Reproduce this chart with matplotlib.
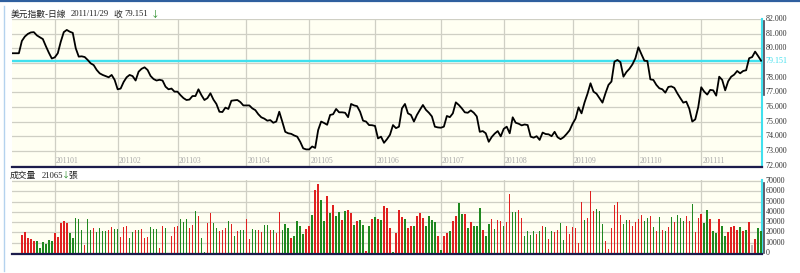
import numpy as np
import pandas as pd
import matplotlib
matplotlib.use("Agg")
import matplotlib.pyplot as plt
from matplotlib.lines import Line2D

# trading days shown (index positions on the x axis)
dates = pd.bdate_range("2010-12-14", "2011-11-29")

price = [
    79.66, 79.66, 79.66, 80.5, 80.8, 80.98, 81.08, 81.1, 80.88, 80.75,
    80.63, 80.15, 79.7, 79.3, 79.38, 79.66, 80.45, 81.1, 81.25, 81.13,
    81.05, 80.0, 79.43, 79.45, 79.4, 79.2, 78.97, 78.85, 78.52, 78.29,
    78.18, 78.1, 78.02, 78.18, 77.84, 77.2, 77.25, 77.7, 78.02, 78.18,
    78.1, 77.8, 78.4, 78.6, 78.7, 78.52, 78.11, 77.9, 77.8, 77.85,
    77.8, 77.38, 77.2, 77.25, 77.04, 77.04, 76.8, 76.6, 76.47, 76.5,
    76.74, 76.74, 77.2, 76.8, 76.47, 76.6, 76.93, 76.5, 76.2, 75.67,
    75.65, 75.95, 75.86, 76.42, 76.45, 76.47, 76.33, 76.1, 76.1, 76.1,
    75.9, 75.78, 75.5, 75.29, 75.2, 75.06, 75.1, 74.92, 75.0, 75.67,
    75.0, 74.3, 74.2, 74.16, 74.05, 73.97, 73.62, 73.17, 73.1, 73.1,
    73.3, 73.2, 74.42, 75.0, 74.9, 74.78, 75.45, 75.5, 75.86, 75.63,
    75.63, 75.6, 75.3, 76.2, 76.1, 76.05, 75.67, 75.06, 75.0, 74.76,
    74.75, 74.7, 73.85, 73.97, 73.55, 73.8, 74.1, 74.76, 74.55, 74.65,
    75.9, 76.2, 75.56, 75.45, 75.0, 75.45, 75.8, 76.13, 75.8, 75.6,
    75.35, 74.65, 74.6, 74.58, 74.65, 75.38, 75.3, 75.56, 76.31, 76.13,
    75.9, 75.63, 75.6, 75.76, 75.6, 75.35, 74.3, 74.35, 74.2, 73.62,
    73.95, 74.18, 74.35, 73.99, 74.5, 74.65, 74.2, 75.29, 74.92, 74.85,
    74.74, 74.8, 74.76, 73.97, 73.9, 74.0, 73.75, 74.25, 74.15, 74.13,
    74.0, 74.3, 73.93, 73.8, 73.93, 74.15, 74.4, 74.85, 75.2, 75.97,
    75.56, 76.3, 76.9, 77.61, 77.04, 76.9, 76.6, 76.29, 76.93, 77.5,
    77.73, 79.09, 79.2, 79.05, 78.06, 78.38, 78.6, 78.9, 79.32, 80.07,
    79.6, 79.15, 79.13, 77.88, 77.84, 77.5, 77.27, 77.2, 76.97, 77.36,
    77.4, 77.3, 76.93, 76.6, 76.29, 76.36, 75.88, 75.0, 75.15, 75.99,
    77.34, 77.04, 76.84, 77.16, 77.13, 76.77, 78.06, 77.84, 77.13, 77.75,
    78.06, 78.2, 78.45, 78.29, 78.45, 78.5, 79.32, 79.4, 79.77, 79.47,
    79.151,
]

volume = [
    0, 0, 0, 17500, 20000, 15000, 14000, 12000, 12000, 5000,
    11000, 9000, 12500, 12000, 19000, 15500, 29000, 31000, 29000, 19000,
    15000, 34000, 33000, 22500, 7500, 33000, 22000, 24000, 20000, 24500,
    21000, 21000, 22000, 25000, 23500, 23500, 16000, 25000, 26000, 14500,
    20000, 22000, 22000, 23000, 15000, 16000, 25000, 23000, 23000, 5000,
    26000, 24000, 0, 17000, 25000, 26000, 33000, 30500, 33000, 24500,
    27000, 40500, 36000, 15000, 1000, 29500, 39000, 29000, 24500, 21000,
    22000, 24500, 31500, 28000, 17000, 21000, 22000, 22500, 33000, 13500,
    23000, 22000, 22000, 20000, 27000, 27000, 22000, 22000, 19000, 39500,
    22500, 28000, 24000, 15000, 16500, 31500, 26500, 18000, 23000, 26000,
    36500, 61500, 67000, 52000, 31500, 55000, 39000, 46500, 36000, 40000,
    32000, 41000, 41500, 39000, 27500, 31500, 32000, 27000, 2000, 26000,
    33000, 35000, 33000, 32500, 45500, 43500, 24000, 1000, 19000, 41500,
    35000, 33500, 24500, 26500, 26500, 36000, 39000, 34500, 26500, 36000,
    32500, 30000, 17000, 3000, 17000, 19500, 21500, 31500, 36000, 49000,
    37500, 38000, 24500, 30500, 26000, 26500, 44000, 22000, 17000, 28000,
    33000, 23500, 32000, 31500, 26000, 30500, 57000, 40000, 39500, 41500,
    34500, 17000, 21500, 17500, 21000, 18000, 21000, 26500, 25500, 13500,
    21000, 20000, 22000, 29500, 12500, 26000, 18500, 25000, 24000, 9500,
    50000, 32500, 34000, 60000, 41000, 43000, 41000, 28000, 11500, 4000,
    24500, 46500, 49500, 37000, 28500, 32500, 32500, 26500, 30000, 33000,
    37000, 31500, 34000, 36000, 25500, 21000, 35000, 22500, 21000, 25000,
    35000, 30000, 37000, 34000, 31500, 36000, 31500, 47500, 20000, 34500,
    38000, 29500, 42000, 33000, 21000, 19000, 33500, 26000, 17000, 20000,
    25500, 26000, 22000, 25500, 21500, 22000, 30500, 8000, 14000, 24000,
    21065,
]

# 1 = up day (red), 0 = down day (green), 2 = flat (grey)
vol_up = [
    0, 0, 0, 1, 1, 1, 1, 1, 0, 0,
    0, 0, 0, 0, 1, 1, 1, 1, 1, 0,
    0, 0, 0, 0, 1, 0, 0, 1, 0, 0,
    0, 0, 1, 1, 0, 0, 1, 1, 1, 0,
    0, 1, 0, 1, 1, 1, 0, 0, 0, 1,
    1, 0, 1, 1, 1, 1, 0, 0, 0, 1,
    1, 0, 1, 0, 0, 1, 1, 0, 0, 1,
    1, 1, 0, 1, 0, 1, 0, 0, 1, 1,
    0, 0, 1, 1, 0, 0, 1, 0, 1, 1,
    0, 0, 0, 1, 0, 0, 0, 0, 1, 1,
    0, 1, 1, 0, 0, 1, 0, 1, 0, 0,
    1, 0, 1, 1, 0, 1, 0, 0, 1, 0,
    1, 0, 1, 0, 1, 1, 1, 0, 1, 1,
    1, 0, 1, 1, 0, 1, 1, 1, 0, 0,
    0, 0, 1, 0, 1, 1, 0, 1, 1, 0,
    0, 1, 0, 1, 0, 0, 0, 1, 0, 0,
    1, 0, 1, 1, 0, 1, 1, 0, 0, 1,
    1, 0, 0, 0, 0, 1, 0, 1, 0, 1,
    0, 1, 1, 0, 0, 1, 1, 1, 1, 1,
    1, 0, 1, 1, 1, 0, 0, 0, 1, 1,
    1, 1, 1, 1, 0, 0, 1, 1, 1, 1,
    1, 0, 0, 1, 0, 1, 0, 1, 0, 1,
    0, 1, 0, 0, 0, 1, 1, 0, 1, 1,
    1, 0, 0, 1, 0, 0, 1, 0, 0, 1,
    1, 1, 1, 0, 1, 0, 1, 2, 1, 0,
    0,
]

price_ticks = [82, 81, 80, 78, 77, 76, 75, 74, 73, 72]
vol_ticks = [0, 10000, 20000, 30000, 40000, 50000, 60000, 70000]
last_close = 79.151
last_vol = 21065

W, H = 800, 273
CREAM = "#fffff2"
GRID = "#cfcfc4"
NAVY = "#1c1c4c"
CYAN = "#40e0ee"
RED = "#e02020"
GREEN = "#1f881f"
CJK = ["Noto Sans CJK TC", "DejaVu Sans"]
SERIF = "Liberation Serif"

x = np.arange(len(dates))
month_idx = [i for i in range(1, len(dates)) if dates[i].month != dates[i - 1].month]
month_lab = [dates[i].strftime("%Y%m") for i in month_idx]

fig = plt.figure(figsize=(W / 100, H / 100), dpi=100)
ax1 = fig.add_axes([12 / W, 1 - 167 / H, 750 / W, (167 - 18.5) / H])
ax2 = fig.add_axes([12 / W, 1 - 254 / H, 750 / W, (254 - 180) / H])

for ax in (ax1, ax2):
    ax.set_facecolor(CREAM)
    ax.set_xlim(-0.3, len(dates) - 0.7)
    ax.set_xticks(month_idx)
    ax.tick_params(length=0, labelleft=False, labelbottom=False)
    ax.grid(True, color=GRID, lw=0.9)
    ax.set_axisbelow(True)
    ax.spines["top"].set_visible(False)
    ax.spines["left"].set_visible(False)
    ax.spines["right"].set_color(CYAN)
    ax.spines["right"].set_linewidth(1.5)
    ax.spines["bottom"].set_color(NAVY)
    ax.spines["bottom"].set_linewidth(1.6)

# price panel
ax1.set_ylim(71.9, 82.03)
ax1.set_yticks(range(72, 83))
ax1.plot(x, price, color="black", lw=1.3, zorder=3)
ax1.axhline(last_close, color=CYAN, lw=1.7, zorder=2)
for m, lab in zip(month_idx, month_lab):
    ax1.text(m + 0.4, 72.3, lab, color="#a8a8a8", fontsize=5.6, family=SERIF,
             va="center", ha="left")
for v in price_ticks:
    ax1.text(1.005, v, f"{v:.3f}", transform=ax1.get_yaxis_transform(),
             fontsize=5.8, family=SERIF, color="#333333", va="center", ha="left")
ax1.text(1.005, last_close, f"{last_close:.3f}", transform=ax1.get_yaxis_transform(),
         fontsize=5.8, family=SERIF, color=CYAN, va="center", ha="left")

# volume panel
ax2.set_ylim(-972, 70972)
ax2.set_yticks(vol_ticks)
colors = [RED if u == 1 else (GREEN if u == 0 else "#b8b8b8") for u in vol_up]
ax2.bar(x, volume, width=0.5, color=colors, lw=0, zorder=3)
for v in vol_ticks:
    ax2.text(1.005, v, f"{v}", transform=ax2.get_yaxis_transform(),
             fontsize=5.8, family=SERIF, color="#333333", va="center", ha="left")

# frame decorations
fig.add_artist(Line2D([0, 1], [1 - 0.8 / H] * 2, color="#2f5f9f", lw=1.6))
fig.add_artist(Line2D([3.5 / W] * 2, [1 - 6 / H, 1 - 271 / H], color="#b4d2ee", lw=1.0))
fig.add_artist(Line2D([764 / W] * 2, [1 - 21 / H, 1 - 95 / H], color="#444455", lw=1.2))
fig.add_artist(Line2D([764 / W] * 2, [1 - 183 / H, 1 - 253 / H], color="#444455", lw=1.2))

# header texts
ty = 1 - 14 / H
fig.text(11 / W, ty, "美元指數-日線", family=CJK, fontsize=6.3, va="center", color="#222222")
fig.text(71 / W, ty, "2011/11/29", family=SERIF, fontsize=6.2, va="center", color="#222222")
fig.text(113 / W, ty, "收", family=CJK, fontsize=6.3, va="center", color="#222222")
fig.text(124 / W, ty, f"{last_close:.3f}", family=SERIF, fontsize=6.2, va="center", color="#222222")
fig.text(150.5 / W, ty, "↓", family=CJK, fontsize=6.3, va="center", color=GREEN)

vy = 1 - 175.5 / H
fig.text(10 / W, vy, "成交量", family=CJK, fontsize=6.3, va="center", color="#222222")
fig.text(42 / W, vy, f"{last_vol}", family=SERIF, fontsize=6.2, va="center", color="#222222")
fig.text(62 / W, vy, "↓", family=CJK, fontsize=5.8, va="center", color=GREEN)
fig.text(68.5 / W, vy, "張", family=CJK, fontsize=6.3, va="center", color="#222222")

fig.savefig("out.png", dpi=100, facecolor="white")
